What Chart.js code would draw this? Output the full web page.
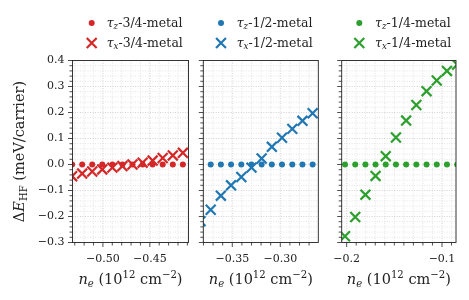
<!DOCTYPE html>
<html>
<head>
<meta charset="utf-8">
<script src="https://cdn.jsdelivr.net/npm/chart.js@4.4.0/dist/chart.umd.min.js"></script>
<style>
html, body { margin: 0; padding: 0; background: #fff; }
#wrap { position: relative; width: 469px; height: 300px; }
#wrap canvas { position: absolute; left: 0; top: 0; }
</style>
</head>
<body>
<div id="wrap">
  <canvas id="c1" width="469" height="300"></canvas>
  <canvas id="c2" width="469" height="300"></canvas>
  <canvas id="c3" width="469" height="300"></canvas>
</div>
<script>
// n_e values (10^12 cm^-2) per panel
const ne34 = [-0.5328, -0.5221, -0.5114, -0.5007, -0.4899, -0.4792, -0.4685, -0.4577, -0.4470, -0.4363, -0.4255, -0.4148];
const ne12 = [-0.3831, -0.3725, -0.3619, -0.3513, -0.3406, -0.3300, -0.3194, -0.3088, -0.2982, -0.2875, -0.2769, -0.2663];
const ne14 = [-0.2017, -0.1910, -0.1803, -0.1697, -0.1590, -0.1483, -0.1376, -0.1269, -0.1162, -0.1055, -0.0948, -0.0841];

// Delta E_HF (meV/carrier)
const tz34 = [0, 0, 0, 0, 0, 0, 0, 0, 0, 0, 0, 0];
const tx34 = [-0.045, -0.035, -0.027, -0.019, -0.012, -0.006, 0.000, 0.007, 0.015, 0.025, 0.035, 0.045];
const tz12 = [0, 0, 0, 0, 0, 0, 0, 0, 0, 0, 0, 0];
const tx12 = [-0.218, -0.174, -0.120, -0.080, -0.048, -0.012, 0.023, 0.068, 0.103, 0.137, 0.168, 0.197];
const tz14 = [0, 0, 0, 0, 0, 0, 0, 0, 0, 0, 0, 0];
const tx14 = [-0.276, -0.202, -0.116, -0.044, 0.032, 0.104, 0.169, 0.229, 0.282, 0.323, 0.360, 0.384];

const yMajor = [-0.3, -0.2, -0.1, 0.0, 0.1, 0.2, 0.3, 0.4];
const xMajor34 = [-0.50, -0.45];
const xMajor12 = [-0.35, -0.30];
const xMajor14 = [-0.2, -0.1];

const W = 469, H = 300, TOP = 60.5, BOTTOM = 242.5;
const FONT = '"DejaVu Serif", serif';
const INK = '#222';
const TICK_SIZE = 11;
const TITLE_SIZE = 14.5;
const LEGEND_SIZE = 12.5;

function fmt(v, d) {
  const s = Math.abs(v).toFixed(d);
  return (v < -1e-9 ? '\u2212' : '') + s;
}

function drawRich(ctx, parts, x, y, size, align) {
  const items = parts.map(([t, s]) => {
    const small = s.indexOf('sub') >= 0 || s.indexOf('sup') >= 0;
    const fs = small ? size * 0.7 : size;
    const font = (s.indexOf('i') >= 0 ? 'italic ' : '') + fs + 'px ' + FONT;
    ctx.font = font;
    const dy = s.indexOf('sub') >= 0 ? size * 0.2 : (s.indexOf('sup') >= 0 ? -size * 0.4 : 0);
    return { t, font, w: ctx.measureText(t).width, dy };
  });
  const total = items.reduce((a, b) => a + b.w, 0);
  let cx = align === 'center' ? x - total / 2 : x;
  ctx.textAlign = 'left';
  ctx.textBaseline = 'alphabetic';
  items.forEach(it => {
    ctx.font = it.font;
    ctx.fillText(it.t, cx, y + it.dy);
    cx += it.w;
  });
}

function range(a, b, step) {
  const out = [];
  for (let k = Math.ceil(a / step - 1e-6); k * step <= b + 1e-9; k++) out.push(+(k * step).toFixed(4));
  return out;
}

const panelPlugin = {
  id: 'panel',
  beforeDatasetsDraw(chart) {
    const { ctx, chartArea: a, scales: { x, y } } = chart;
    const p = chart.options.plugins.panel;
    ctx.save();
    ctx.lineWidth = 0.6;
    ctx.setLineDash([1, 1.5]);
    range(x.min, x.max, 0.01).forEach(v => {
      const px = x.getPixelForValue(v);
      const major = p.xMajor.some(m => Math.abs(m - v) < 1e-6);
      ctx.strokeStyle = major ? '#b4b4b4' : '#d2d2d2';
      ctx.beginPath(); ctx.moveTo(px, a.top); ctx.lineTo(px, a.bottom); ctx.stroke();
    });
    range(y.min, y.max, 0.02).forEach(v => {
      const py = y.getPixelForValue(v);
      const major = yMajor.some(m => Math.abs(m - v) < 1e-6);
      ctx.strokeStyle = major ? '#b4b4b4' : '#d2d2d2';
      ctx.beginPath(); ctx.moveTo(a.left, py); ctx.lineTo(a.right, py); ctx.stroke();
    });
    ctx.restore();
  },
  afterDatasetsDraw(chart) {
    const { ctx, chartArea: a, scales: { x, y } } = chart;
    const p = chart.options.plugins.panel;
    ctx.save();
    ctx.strokeStyle = INK;
    ctx.lineWidth = 0.9;
    ctx.strokeRect(a.left, a.top, a.right - a.left, a.bottom - a.top);
    ctx.lineWidth = 0.8;
    range(x.min, x.max, 0.01).forEach(v => {
      const px = x.getPixelForValue(v);
      const major = p.xMajor.some(m => Math.abs(m - v) < 1e-6);
      ctx.beginPath(); ctx.moveTo(px, a.bottom); ctx.lineTo(px, a.bottom + (major ? 4.5 : 3)); ctx.stroke();
    });
    range(y.min, y.max, 0.02).forEach(v => {
      const py = y.getPixelForValue(v);
      const major = yMajor.some(m => Math.abs(m - v) < 1e-6);
      ctx.beginPath(); ctx.moveTo(a.left, py); ctx.lineTo(a.left - (major ? 4.5 : 3), py); ctx.stroke();
    });
    // x axis title
    ctx.fillStyle = INK;
    drawRich(ctx, [['n', 'i'], ['e', 'subi'], [' (10', ''], ['12', 'sup'], [' cm', ''], ['\u22122', 'sup'], [')', '']],
      (a.left + a.right) / 2, 284, TITLE_SIZE, 'center');
    if (p.first) {
      ctx.save();
      ctx.translate(24, (a.top + a.bottom) / 2);
      ctx.rotate(-Math.PI / 2);
      drawRich(ctx, [['\u0394', ''], ['E', 'i'], ['HF', 'sub'], [' (meV/carrier)', '']], 0, 0, TITLE_SIZE, 'center');
      ctx.restore();
      drawLegend(ctx);
    }
    ctx.restore();
  }
};

const legendCols = [
  { label: '3/4-metal', color: '#d62728', mx: 91.7, tx: 106.7 },
  { label: '1/2-metal', color: '#1f77b4', mx: 221, tx: 236.7 },
  { label: '1/4-metal', color: '#2ca02c', mx: 359.3, tx: 375 }
];

function drawLegend(ctx) {
  legendCols.forEach(c => {
    ctx.fillStyle = c.color;
    ctx.strokeStyle = c.color;
    Chart.helpers.drawPoint(ctx, { pointStyle: 'circle', radius: 3, borderWidth: 0 }, c.mx, 23);
    ctx.lineWidth = 2.2;
    Chart.helpers.drawPoint(ctx, { pointStyle: 'crossRot', radius: 7, borderWidth: 2.2 }, c.mx, 43);
    ctx.fillStyle = INK;
    drawRich(ctx, [['\u03c4', 'i'], ['z', 'subi'], ['-' + c.label, '']], c.tx, 26.5, LEGEND_SIZE, 'left');
    drawRich(ctx, [['\u03c4', 'i'], ['x', 'subi'], ['-' + c.label, '']], c.tx, 46.5, LEGEND_SIZE, 'left');
  });
}

function makePanel(id, cfg) {
  return new Chart(document.getElementById(id), {
    type: 'scatter',
    data: {
      datasets: [
        { data: cfg.ne.map((v, i) => ({ x: v, y: cfg.tz[i] })), pointStyle: 'circle', pointRadius: 3,
          backgroundColor: cfg.color, borderWidth: 0, clip: 0 },
        { data: cfg.ne.map((v, i) => ({ x: v, y: cfg.tx[i] })), pointStyle: 'crossRot', pointRadius: 7,
          borderColor: cfg.color, backgroundColor: cfg.color, pointBorderWidth: 2.2, clip: 0 }
      ]
    },
    options: {
      responsive: false,
      animation: false,
      events: [],
      layout: { padding: { left: 0, right: W - cfg.right, top: TOP, bottom: 0 } },
      plugins: {
        legend: { display: false },
        tooltip: { enabled: false },
        panel: { xMajor: cfg.xMajor, first: cfg.first }
      },
      scales: {
        x: {
          type: 'linear', min: cfg.xmin, max: cfg.xmax,
          afterFit: s => { s.height = H - BOTTOM; },
          afterBuildTicks: s => { s.ticks = cfg.xMajor.map(v => ({ value: v })); },
          grid: { display: false, drawTicks: false },
          border: { display: false },
          ticks: { autoSkip: false, maxRotation: 0, padding: 10, color: INK,
            font: { family: FONT, size: TICK_SIZE }, callback: v => fmt(v, cfg.xDec) }
        },
        y: {
          type: 'linear', min: -0.3, max: 0.4,
          afterFit: s => { s.width = cfg.left; },
          afterBuildTicks: s => { s.ticks = yMajor.map(v => ({ value: v })); },
          grid: { display: false, drawTicks: false },
          border: { display: false },
          ticks: { autoSkip: false, padding: 8, color: INK,
            font: { family: FONT, size: TICK_SIZE }, callback: v => cfg.first ? fmt(v, 1) : '' }
        }
      }
    },
    plugins: [panelPlugin]
  });
}

makePanel('c1', { ne: ne34, tz: tz34, tx: tx34, color: '#d62728', left: 72.5, right: 188.5,
  xmin: -0.5324, xmax: -0.4088, xMajor: xMajor34, xDec: 2, first: true });
makePanel('c2', { ne: ne12, tz: tz12, tx: tx12, color: '#1f77b4', left: 203.3, right: 318.3,
  xmin: -0.3802, xmax: -0.2604, xMajor: xMajor12, xDec: 2, first: false });
makePanel('c3', { ne: ne14, tz: tz14, tx: tx14, color: '#2ca02c', left: 341.7, right: 456,
  xmin: -0.2052, xmax: -0.0853, xMajor: xMajor14, xDec: 1, first: false });
</script>
</body>
</html>
